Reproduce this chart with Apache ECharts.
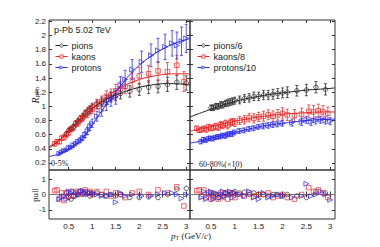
<!DOCTYPE html>
<html><head><meta charset="utf-8">
<script src="https://cdn.jsdelivr.net/npm/echarts@6/dist/echarts.min.js"></script>
<style>html,body{margin:0;padding:0;background:#fff}#c{width:380px;height:247px}</style>
</head><body><div id="c"></div>
<script>
// ---- tick labels ----
const xTickVals = [0.5, 1, 1.5, 2, 2.5, 3];
const yTickVals = [0.2, 0.4, 0.6, 0.8, 1, 1.2, 1.4, 1.6, 1.8, 2, 2.2];
const pullTickVals = [-1, 0, 1];

// ---- 0-5% (left) ----
const pionPtC = [0.45,0.5,0.55,0.6,0.65,0.7,0.75,0.8,0.85,0.9,0.95,1.0,1.1,1.2,1.3,1.4,1.5,1.6,1.8,2.0,2.2,2.4,2.6,2.8,3.0];
const pionRC = [0.61,0.66,0.68,0.71,0.76,0.79,0.83,0.85,0.9,0.93,0.95,0.99,1.03,1.06,1.09,1.13,1.15,1.18,1.21,1.24,1.27,1.28,1.31,1.34,1.33];
const pionErrC = [0.03,0.03,0.03,0.035,0.035,0.04,0.04,0.045,0.045,0.05,0.05,0.055,0.06,0.06,0.065,0.07,0.07,0.075,0.08,0.085,0.09,0.09,0.1,0.1,0.1];
const pionPullC = [0.1,-0.2,-0.3,-0.1,0.1,0.0,0.2,0.0,0.2,0.1,-0.1,0.1,0.1,0.0,-0.1,0.0,-0.1,0.0,-0.2,-0.2,-0.15,-0.2,0.0,0.35,0.4];

const kaonPtC = [0.2,0.25,0.3,0.35,0.4,0.45,0.5,0.55,0.6,0.65,0.7,0.75,0.8,0.85,0.9,0.95,1.0,1.1,1.2,1.3,1.4,1.5,1.6,1.7,1.85,2.0,2.2,2.4,2.6,2.8,2.95];
const kaonRC = [0.47,0.5,0.5,0.55,0.56,0.6,0.63,0.68,0.7,0.75,0.77,0.82,0.84,0.89,0.9,0.95,0.96,1.03,1.07,1.14,1.16,1.22,1.25,1.28,1.37,1.43,1.46,1.5,1.49,1.58,1.35];
const kaonErrC = [0.03,0.03,0.03,0.03,0.035,0.035,0.04,0.04,0.045,0.045,0.05,0.05,0.055,0.055,0.06,0.06,0.065,0.07,0.075,0.08,0.085,0.09,0.095,0.1,0.11,0.12,0.12,0.13,0.13,0.14,0.14];
const kaonPullC = [0.25,0.3,-0.3,0.1,-0.4,0.1,-0.1,0.2,-0.1,0.2,0.0,0.2,0.1,0.3,0.1,0.2,0.0,0.2,0.0,0.2,-0.1,0.1,0.0,-0.2,0.1,0.2,0.0,0.3,0.1,0.5,-0.75];

const protonPtC = [0.3,0.35,0.4,0.45,0.5,0.55,0.6,0.65,0.7,0.75,0.8,0.85,0.9,0.95,1.0,1.1,1.2,1.3,1.4,1.5,1.6,1.7,1.85,2.05,2.25,2.4,2.55,2.7,2.8,2.9,3.0];
const protonRC = [0.33,0.35,0.37,0.38,0.41,0.42,0.45,0.47,0.5,0.52,0.55,0.6,0.65,0.71,0.76,0.86,0.94,1.03,1.1,1.13,1.3,1.38,1.52,1.63,1.72,1.79,1.84,1.89,1.86,1.92,1.96];
const protonErrC = [0.02,0.02,0.02,0.02,0.025,0.025,0.03,0.03,0.03,0.035,0.035,0.04,0.05,0.05,0.06,0.07,0.08,0.09,0.1,0.1,0.12,0.13,0.14,0.15,0.16,0.17,0.18,0.18,0.19,0.2,0.2];
const protonPullC = [-0.3,-0.2,-0.1,-0.3,0.2,0.1,0.2,-0.1,0.0,0.2,0.25,0.1,0.0,0.1,0.1,0.0,-0.1,-0.1,0.0,-0.5,0.1,-0.1,0.0,-0.1,-0.1,0.0,0.1,0.1,0.0,-0.25,0.0];

const fitPtC = [0.08,0.3,0.5,0.75,1.0,1.25,1.5,1.75,2.0,2.25,2.5,2.75,3.08];
const pionFitC = [0.41,0.52,0.65,0.82,0.97,1.08,1.16,1.22,1.27,1.3,1.32,1.32,1.3];
const kaonFitC = [0.43,0.52,0.64,0.81,0.97,1.11,1.22,1.31,1.38,1.42,1.45,1.46,1.46];
const protonFitC = [0.29,0.33,0.4,0.52,0.74,0.98,1.2,1.41,1.58,1.71,1.81,1.89,1.96];

// ---- 60-80% x10 (right) ----
const pionPtP = [0.5,0.55,0.6,0.65,0.7,0.75,0.8,0.85,0.9,0.95,1.0,1.1,1.2,1.3,1.4,1.5,1.6,1.7,1.8,1.9,2.0,2.1,2.3,2.5,2.7,2.9];
const pionRP = [0.98,0.98,1.0,1.0,1.02,1.02,1.04,1.05,1.06,1.07,1.08,1.09,1.11,1.12,1.14,1.14,1.16,1.16,1.17,1.18,1.19,1.2,1.22,1.23,1.27,1.24];
const pionErrP = [0.04,0.04,0.04,0.04,0.045,0.045,0.045,0.05,0.05,0.05,0.05,0.055,0.055,0.06,0.06,0.06,0.065,0.065,0.07,0.07,0.07,0.075,0.075,0.08,0.08,0.08];
const pionPullP = [0.1,-0.1,0.0,-0.2,0.0,-0.1,0.1,0.0,0.0,0.1,0.2,0.1,0.15,0.0,0.1,0.0,0.0,-0.1,0.0,0.0,-0.1,0.0,-0.1,-0.2,0.2,0.1];

const kaonPtP = [0.2,0.25,0.3,0.35,0.4,0.45,0.5,0.55,0.6,0.65,0.7,0.75,0.8,0.85,0.9,0.95,1.0,1.1,1.2,1.3,1.4,1.5,1.6,1.7,1.8,1.9,2.0,2.1,2.25,2.4,2.55,2.65,2.75,2.85,2.95];
const kaonRP = [0.69,0.66,0.67,0.69,0.67,0.71,0.69,0.7,0.72,0.7,0.74,0.73,0.76,0.73,0.77,0.78,0.77,0.8,0.81,0.84,0.83,0.85,0.86,0.88,0.86,0.88,0.9,0.88,0.87,0.89,0.93,0.92,0.94,0.92,0.9];
const kaonErrP = [0.03,0.03,0.03,0.03,0.035,0.035,0.035,0.04,0.04,0.04,0.045,0.045,0.045,0.05,0.05,0.05,0.055,0.055,0.06,0.06,0.065,0.065,0.07,0.07,0.075,0.075,0.08,0.08,0.085,0.085,0.09,0.09,0.09,0.09,0.09];
const kaonPullP = [0.25,0.3,-0.1,0.3,-0.2,0.1,-0.3,-0.2,0.0,-0.3,0.1,-0.2,0.1,-0.3,0.1,0.1,-0.2,0.0,-0.1,0.1,-0.1,0.0,0.0,0.1,-0.2,-0.1,0.0,-0.2,-0.3,0.0,0.45,0.2,0.3,0.1,-0.2];

const protonPtP = [0.3,0.35,0.4,0.45,0.5,0.55,0.6,0.65,0.7,0.75,0.8,0.85,0.9,0.95,1.0,1.1,1.2,1.3,1.4,1.5,1.6,1.7,1.8,1.9,2.0,2.2,2.4,2.5,2.6,2.7,2.8,2.9,3.0];
const protonRP = [0.5,0.53,0.52,0.54,0.55,0.54,0.56,0.57,0.57,0.59,0.58,0.6,0.61,0.61,0.63,0.65,0.66,0.68,0.69,0.71,0.72,0.73,0.74,0.75,0.76,0.77,0.78,0.81,0.78,0.8,0.81,0.8,0.79];
const protonErrP = [0.03,0.03,0.03,0.03,0.03,0.03,0.03,0.03,0.03,0.03,0.035,0.035,0.035,0.035,0.035,0.035,0.035,0.035,0.035,0.035,0.04,0.04,0.04,0.04,0.04,0.05,0.05,0.05,0.05,0.05,0.05,0.05,0.05];
const protonPullP = [-0.2,0.2,-0.3,0.0,0.2,-0.3,0.1,0.0,-0.2,0.2,-0.1,0.1,0.2,-0.2,0.1,0.0,-0.1,0.2,-0.2,-0.3,0.1,-0.2,-0.1,0.0,-0.1,-0.2,-0.1,0.7,-0.1,0.0,0.2,0.0,-0.35];

const fitPtP = [0.06,0.3,0.5,0.75,1.0,1.25,1.5,1.75,2.0,2.25,2.5,2.75,3.1];
const pionFitP = [0.85,0.91,0.96,1.02,1.07,1.11,1.14,1.17,1.19,1.21,1.23,1.24,1.26];
const kaonFitP = [0.65,0.68,0.71,0.75,0.79,0.82,0.85,0.87,0.89,0.9,0.91,0.92,0.92];
const protonFitP = [0.48,0.51,0.55,0.59,0.63,0.67,0.71,0.74,0.76,0.78,0.8,0.81,0.82];

// ---- styling / layout ----
const BLACK = '#222222', RED = '#f02828', BLUE = '#2828f0';
const SANS = 'Liberation Sans', SERIF = 'Liberation Serif';
const xRange = [[0.08, 3.08], [0.06, 3.1], [0.08, 3.08], [0.06, 3.1]];
const yRange = [[0.1, 2.22], [0.1, 2.22], [-1.6, 1.6], [-1.6, 1.6]];

const chart = echarts.init(document.getElementById('c'), null, {renderer: 'svg'});

const grids = [
  {left: 49, top: 20, width: 141, height: 150},
  {left: 190, top: 20, width: 145, height: 150},
  {left: 49, top: 170, width: 141, height: 49},
  {left: 190, top: 170, width: 145, height: 49}
].map(g => Object.assign(g, {show: true, borderColor: '#333', borderWidth: 1, backgroundColor: 'transparent'}));

function xAx(gi, pos, showLabel) {
  return {
    type: 'value', gridIndex: gi, min: xRange[gi][0], max: xRange[gi][1], position: pos,
    axisLine: {show: false}, splitLine: {show: false},
    axisTick: {show: true, inside: true, length: 3, customValues: xTickVals, lineStyle: {color: '#333'}},
    axisLabel: {show: showLabel, customValues: xTickVals, fontSize: 8, margin: 3, color: '#222', fontFamily: SANS}
  };
}
function yAx(gi, pos, showLabel) {
  const vals = gi < 2 ? yTickVals : pullTickVals;
  return {
    type: 'value', gridIndex: gi, min: yRange[gi][0], max: yRange[gi][1], position: pos,
    axisLine: {show: false}, splitLine: {show: false},
    axisTick: {show: true, inside: true, length: 3, customValues: vals, lineStyle: {color: '#333'}},
    axisLabel: {show: showLabel, customValues: vals, fontSize: 8, margin: 3, color: '#222', fontFamily: SANS}
  };
}

const xAxes = [xAx(0,'bottom',false), xAx(1,'bottom',false), xAx(2,'bottom',true), xAx(3,'bottom',true),
               xAx(0,'top',false), xAx(1,'top',false), xAx(2,'top',false), xAx(3,'top',false)];
const yAxes = [yAx(0,'left',true), yAx(1,'left',false), yAx(2,'left',true), yAx(3,'left',false),
               yAx(0,'right',false), yAx(1,'right',false), yAx(2,'right',false), yAx(3,'right',false)];

function errSeries(gi, pts, vals, errs, color) {
  return {
    type: 'custom', xAxisIndex: gi, yAxisIndex: gi, silent: true, z: 2, clip: true,
    data: pts.map((p, i) => [p, vals[i] - errs[i], vals[i] + errs[i]]),
    encode: {x: 0, y: [1, 2]},
    renderItem: (params, api) => {
      const lo = api.coord([api.value(0), api.value(1)]);
      const hi = api.coord([api.value(0), api.value(2)]);
      const w = 1.5;
      const st = {stroke: color, lineWidth: 0.9, opacity: 0.85};
      return {type: 'group', children: [
        {type: 'line', shape: {x1: lo[0], y1: lo[1], x2: hi[0], y2: hi[1]}, style: st},
        {type: 'line', shape: {x1: lo[0]-w, y1: lo[1], x2: lo[0]+w, y2: lo[1]}, style: st},
        {type: 'line', shape: {x1: hi[0]-w, y1: hi[1], x2: hi[0]+w, y2: hi[1]}, style: st}
      ]};
    }
  };
}
const SYM = {pion: ['circle', 0, 4.5], kaon: ['rect', 0, 4.5], proton: ['triangle', -90, 5]};
function ptsSeries(gi, pts, vals, kind, color) {
  return {
    type: 'scatter', xAxisIndex: gi, yAxisIndex: gi, z: 3, silent: true,
    symbol: SYM[kind][0], symbolRotate: SYM[kind][1], symbolSize: SYM[kind][2],
    itemStyle: {color: 'rgba(255,255,255,0)', borderColor: color, borderWidth: 0.9},
    data: pts.map((p, i) => [p, vals[i]])
  };
}
function fitSeries(gi, pts, vals, color) {
  return {
    type: 'line', xAxisIndex: gi, yAxisIndex: gi, z: 4, silent: true, smooth: 0.35,
    showSymbol: false, symbol: 'none', lineStyle: {color: color, width: 1},
    data: pts.map((p, i) => [p, vals[i]])
  };
}
function legSeries(gi, name, kind, color) {
  return {
    type: 'line', name: name, xAxisIndex: gi, yAxisIndex: gi, data: [],
    symbol: SYM[kind][0], symbolRotate: SYM[kind][1], symbolSize: 4,
    itemStyle: {color: '#fff', borderColor: color, borderWidth: 0.8},
    lineStyle: {color: color, width: 1}
  };
}
function zeroLine(gi) {
  return {type: 'line', xAxisIndex: gi, yAxisIndex: gi, z: 1, silent: true, symbol: 'none',
    lineStyle: {color: '#777', width: 1}, data: [[xRange[gi][0], 0], [xRange[gi][1], 0]]};
}

const series = [
  zeroLine(2), zeroLine(3),
  errSeries(0, pionPtC, pionRC, pionErrC, BLACK),
  errSeries(0, kaonPtC, kaonRC, kaonErrC, RED),
  errSeries(0, protonPtC, protonRC, protonErrC, BLUE),
  ptsSeries(0, pionPtC, pionRC, 'pion', BLACK),
  ptsSeries(0, kaonPtC, kaonRC, 'kaon', RED),
  ptsSeries(0, protonPtC, protonRC, 'proton', BLUE),
  fitSeries(0, fitPtC, pionFitC, BLACK),
  fitSeries(0, fitPtC, kaonFitC, RED),
  fitSeries(0, fitPtC, protonFitC, BLUE),
  errSeries(1, pionPtP, pionRP, pionErrP, BLACK),
  errSeries(1, kaonPtP, kaonRP, kaonErrP, RED),
  errSeries(1, protonPtP, protonRP, protonErrP, BLUE),
  ptsSeries(1, pionPtP, pionRP, 'pion', BLACK),
  ptsSeries(1, kaonPtP, kaonRP, 'kaon', RED),
  ptsSeries(1, protonPtP, protonRP, 'proton', BLUE),
  fitSeries(1, fitPtP, pionFitP, BLACK),
  fitSeries(1, fitPtP, kaonFitP, RED),
  fitSeries(1, fitPtP, protonFitP, BLUE),
  ptsSeries(2, pionPtC, pionPullC, 'pion', BLACK),
  ptsSeries(2, kaonPtC, kaonPullC, 'kaon', RED),
  ptsSeries(2, protonPtC, protonPullC, 'proton', BLUE),
  ptsSeries(3, pionPtP, pionPullP, 'pion', BLACK),
  ptsSeries(3, kaonPtP, kaonPullP, 'kaon', RED),
  ptsSeries(3, protonPtP, protonPullP, 'proton', BLUE),
  legSeries(0, 'pions', 'pion', BLACK),
  legSeries(0, 'kaons', 'kaon', RED),
  legSeries(0, 'protons', 'proton', BLUE),
  legSeries(1, 'pions/6', 'pion', BLACK),
  legSeries(1, 'kaons/8', 'kaon', RED),
  legSeries(1, 'protons/10', 'proton', BLUE)
];

const legBase = {orient: 'vertical', itemWidth: 12, itemHeight: 4, itemGap: 2, selectedMode: false,
  itemStyle: {borderWidth: 0.8, color: '#fff'}, lineStyle: {width: 1},
  textStyle: {fontSize: 9, color: '#222', fontFamily: SANS, lineHeight: 8, padding: [0,0,0,-1]}};

const option = {
  backgroundColor: '#fff',
  animation: false,
  title: {text: 'p-Pb 5.02 TeV', left: 54, top: 25, padding: 0,
    textStyle: {fontSize: 9, fontWeight: 'normal', color: '#222', fontFamily: SANS}},
  legend: [
    Object.assign({}, legBase, {left: 50, top: 36, data: ['pions', 'kaons', 'protons']}),
    Object.assign({}, legBase, {left: 192, top: 36, data: ['pions/6', 'kaons/8', 'protons/10']})
  ],
  grid: grids,
  xAxis: xAxes,
  yAxis: yAxes,
  series: series,
  graphic: [
    {type: 'text', left: 51, top: 159, style: {text: '0-5%', fontSize: 8, fontFamily: SERIF, fill: '#222'}},
    {type: 'text', left: 199, top: 160, style: {text: '60-80%(×10)', fontSize: 8, fontFamily: SERIF, fill: '#222'}},
    {type: 'text', x: 35, y: 95, rotation: Math.PI / 2,
      style: {text: '{i|R}{s|pPb}', align: 'center', verticalAlign: 'middle',
        rich: {i: {fontSize: 10, fontStyle: 'italic', fontFamily: SERIF, fill: '#222'},
               s: {fontSize: 7, fontFamily: SERIF, fill: '#222', padding: [4, 0, 0, 0]}}}},
    {type: 'text', x: 35, y: 195, rotation: Math.PI / 2,
      style: {text: 'pull', align: 'center', verticalAlign: 'middle', fontSize: 9, fontFamily: SERIF, fill: '#222'}},
    {type: 'text', x: 191, y: 236,
      style: {text: '{i|p}{s|T}{n| (GeV/}{i|c}{n|)}', align: 'center', verticalAlign: 'middle',
        rich: {i: {fontSize: 9, fontStyle: 'italic', fontFamily: SERIF, fill: '#222'},
               s: {fontSize: 6, fontFamily: SERIF, fill: '#222', padding: [4, 0, 0, 0]},
               n: {fontSize: 9, fontFamily: SERIF, fill: '#222'}}}}
  ]
};
chart.setOption(option);
</script>
</body></html>
